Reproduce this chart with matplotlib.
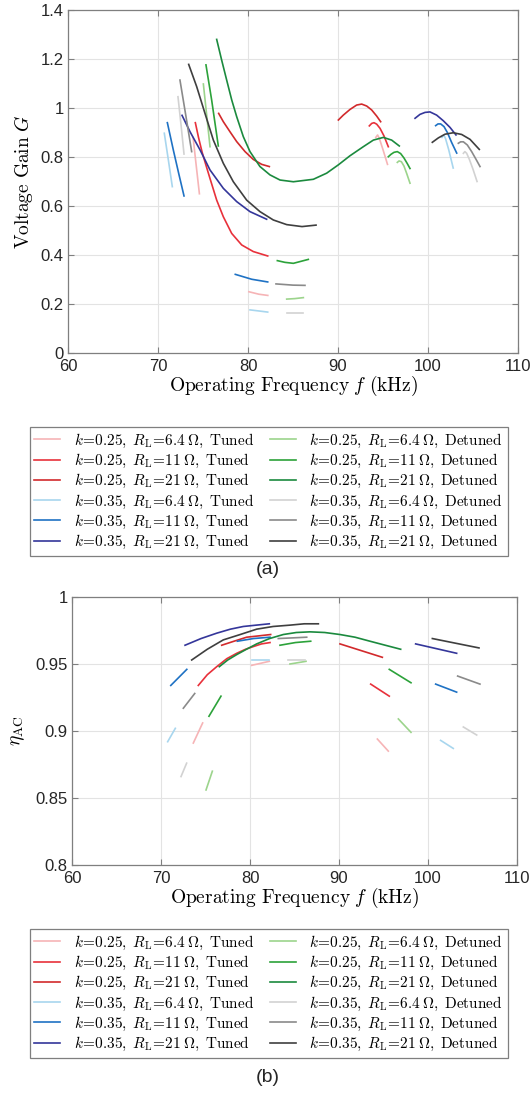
import matplotlib
matplotlib.use("Agg")
import matplotlib.pyplot as plt
from matplotlib.ticker import FuncFormatter

plt.rcParams['mathtext.fontset'] = 'cm'
plt.rcParams['font.family'] = ['Liberation Sans', 'DejaVu Sans']

# series labels / colours
labels = [
    r"$k\!=\!0.25,\;R_\mathrm{L}\!=\!6.4\;\Omega,\;\mathrm{Tuned}$",
    r"$k\!=\!0.25,\;R_\mathrm{L}\!=\!11\;\Omega,\;\mathrm{Tuned}$",
    r"$k\!=\!0.25,\;R_\mathrm{L}\!=\!21\;\Omega,\;\mathrm{Tuned}$",
    r"$k\!=\!0.35,\;R_\mathrm{L}\!=\!6.4\;\Omega,\;\mathrm{Tuned}$",
    r"$k\!=\!0.35,\;R_\mathrm{L}\!=\!11\;\Omega,\;\mathrm{Tuned}$",
    r"$k\!=\!0.35,\;R_\mathrm{L}\!=\!21\;\Omega,\;\mathrm{Tuned}$",
    r"$k\!=\!0.25,\;R_\mathrm{L}\!=\!6.4\;\Omega,\;\mathrm{Detuned}$",
    r"$k\!=\!0.25,\;R_\mathrm{L}\!=\!11\;\Omega,\;\mathrm{Detuned}$",
    r"$k\!=\!0.25,\;R_\mathrm{L}\!=\!21\;\Omega,\;\mathrm{Detuned}$",
    r"$k\!=\!0.35,\;R_\mathrm{L}\!=\!6.4\;\Omega,\;\mathrm{Detuned}$",
    r"$k\!=\!0.35,\;R_\mathrm{L}\!=\!11\;\Omega,\;\mathrm{Detuned}$",
    r"$k\!=\!0.35,\;R_\mathrm{L}\!=\!21\;\Omega,\;\mathrm{Detuned}$",
]
colors = ['#f6b4b6', '#e8313b', '#d22a2c', '#a8d6ee', '#1f72c4', '#34369a',
          '#9cd48c', '#2ca23a', '#1b8a3e', '#d2d2d2', '#8a8a8a', '#3f3f3f']

# ---- voltage gain G, each series = list of (f [kHz], G) branches ----
gain_t25_64 = [([73.9, 74.2, 74.6], [0.88, 0.78, 0.65]),
               ([80.1, 81.2, 82.2], [0.25, 0.24, 0.235]),
               ([94.2, 94.4, 94.6, 95.0, 95.5], [0.88, 0.89, 0.875, 0.83, 0.77])]
gain_t25_11 = [([74.15, 74.5, 74.9, 75.3, 75.78, 76.52, 77.26, 78.19, 79.3, 80.59, 82.19],
                [0.94, 0.88, 0.82, 0.77, 0.712, 0.624, 0.556, 0.488, 0.441, 0.414, 0.396]),
               ([93.48, 93.74, 94.0, 94.3, 94.67, 95.11, 95.59],
                [0.927, 0.937, 0.94, 0.934, 0.917, 0.886, 0.842])]
gain_t25_21 = [([76.74, 77.26, 78.0, 78.74, 79.67, 80.59, 81.52, 82.37],
                [0.978, 0.944, 0.903, 0.863, 0.822, 0.79, 0.77, 0.761]),
               ([90.04, 90.59, 91.33, 92.07, 92.63, 93.19, 93.74, 94.3, 94.74],
                [0.951, 0.971, 0.994, 1.012, 1.016, 1.008, 0.992, 0.967, 0.944])]
gain_t35_64 = [([70.7, 71.15, 71.59], [0.897, 0.788, 0.679]),
               ([80.22, 81.33, 82.19], [0.176, 0.171, 0.167]),
               ([101.55, 101.75, 101.95, 102.3, 102.8], [0.88, 0.89, 0.875, 0.83, 0.755])]
gain_t35_11 = [([71.04, 71.7, 72.3, 72.89], [0.94, 0.829, 0.733, 0.641]),
               ([78.59, 80.41, 82.19], [0.321, 0.301, 0.29]),
               ([100.85, 101.11, 101.41, 101.78, 102.15, 102.63, 103.19],
                [0.928, 0.935, 0.935, 0.924, 0.9, 0.859, 0.816])]
gain_t35_21 = [([72.67, 73.56, 74.67, 75.78, 77.26, 78.74, 80.22, 82.07],
                [0.97, 0.903, 0.829, 0.747, 0.672, 0.618, 0.577, 0.546]),
               ([98.56, 99.11, 99.67, 100.22, 100.96, 101.7, 102.44, 103.11],
                [0.958, 0.974, 0.982, 0.984, 0.971, 0.948, 0.921, 0.89])]
gain_d25_64 = [([75.04, 75.41, 75.78], [1.098, 0.971, 0.842]),
               ([84.3, 85.2, 86.15], [0.22, 0.222, 0.226]),
               ([96.59, 96.78, 97.04, 97.33, 97.63, 98.0], [0.778, 0.784, 0.781, 0.763, 0.733, 0.693])]
gain_d25_11 = [([75.33, 75.96, 76.7], [1.176, 1.033, 0.845]),
               ([83.26, 84.1, 85.04, 86.7], [0.377, 0.37, 0.366, 0.382]),
               ([95.59, 95.89, 96.22, 96.59, 96.96, 97.33, 97.7, 98.0],
                [0.801, 0.811, 0.819, 0.822, 0.814, 0.796, 0.773, 0.753])]
gain_d25_21 = [([76.52, 77.07, 77.63, 78.19, 78.74, 79.48, 80.22, 81.33, 82.44, 83.56, 85.04,
                 87.26, 88.74, 90.04, 91.33, 92.81, 93.93, 95.04, 95.96, 96.81],
                [1.28, 1.196, 1.114, 1.033, 0.965, 0.883, 0.822, 0.761, 0.727, 0.706, 0.699,
                 0.709, 0.734, 0.768, 0.805, 0.842, 0.869, 0.88, 0.869, 0.845])]
gain_d35_64 = [([72.22, 72.56, 72.89], [1.046, 0.931, 0.812]),
               ([84.3, 86.07], [0.162, 0.162]),
               ([103.93, 104.1, 104.3, 104.6, 105.0, 105.45], [0.815, 0.822, 0.815, 0.79, 0.75, 0.70])]
gain_d35_11 = [([72.44, 73.11, 73.74], [1.114, 0.965, 0.822]),
               ([83.11, 85.0, 86.33], [0.282, 0.277, 0.276]),
               ([103.37, 103.63, 103.93, 104.37, 104.85, 105.33, 105.78],
                [0.856, 0.862, 0.862, 0.849, 0.822, 0.791, 0.761])]
gain_d35_21 = [([73.41, 74.3, 75.22, 76.15, 77.26, 78.37, 79.85, 81.33, 82.81, 84.3, 86.0, 87.56],
                [1.178, 1.087, 0.978, 0.869, 0.774, 0.699, 0.624, 0.577, 0.543, 0.524, 0.516, 0.522]),
               ([100.48, 101.15, 101.89, 102.81, 103.74, 104.67, 105.7],
                [0.86, 0.878, 0.893, 0.899, 0.892, 0.872, 0.831])]

# ---- AC efficiency ----
eta_t25_64 = [([73.63, 74.68], [0.891, 0.906]),
              ([80.19, 82.17], [0.949, 0.952]),
              ([94.31, 95.54], [0.894, 0.885])]
eta_t25_11 = [([74.19, 75.2, 76.26, 77.4, 78.51, 79.5, 80.37, 81.3, 82.25],
               [0.934, 0.942, 0.948, 0.954, 0.958, 0.961, 0.963, 0.965, 0.966]),
              ([93.56, 95.65], [0.935, 0.926])]
eta_t25_21 = [([76.82, 78.2, 79.63, 81.0, 82.32], [0.964, 0.967, 0.970, 0.971, 0.972]),
              ([90.11, 94.87], [0.965, 0.955])]
eta_t35_64 = [([70.75, 71.61], [0.892, 0.902]),
              ([80.19, 82.13], [0.953, 0.953]),
              ([101.42, 102.84], [0.893, 0.887])]
eta_t35_11 = [([71.1, 72.9], [0.934, 0.946]),
              ([78.58, 80.4, 82.25], [0.967, 0.969, 0.970]),
              ([100.86, 103.22], [0.935, 0.929])]
eta_t35_21 = [([72.7, 74.5, 76.26, 77.8, 79.25, 80.7, 82.17],
               [0.964, 0.969, 0.973, 0.976, 0.978, 0.979, 0.980]),
              ([98.61, 103.22], [0.965, 0.958])]
eta_d25_64 = [([75.06, 75.77], [0.856, 0.870]),
              ([84.49, 85.4, 86.29], [0.950, 0.951, 0.952]),
              ([96.67, 98.09], [0.909, 0.899])]
eta_d25_11 = [([75.39, 76.74], [0.911, 0.926]),
              ([83.37, 85.1, 86.82], [0.964, 0.966, 0.967]),
              ([95.65, 98.09], [0.946, 0.936])]
eta_d25_21 = [([76.55, 77.5, 78.5, 79.6, 80.75, 82.2, 83.74, 85.2, 86.74, 88.4, 90.11, 91.8, 93.48, 95.2, 96.93],
               [0.948, 0.953, 0.957, 0.961, 0.965, 0.969, 0.972, 0.9735, 0.974, 0.9735, 0.972, 0.970,
                0.967, 0.964, 0.961])]
eta_d35_64 = [([72.25, 72.88], [0.866, 0.876]),
              ([84.31, 86.18], [0.953, 0.953]),
              ([103.97, 105.47], [0.903, 0.897])]
eta_d35_11 = [([72.51, 73.79], [0.917, 0.928]),
              ([83.18, 84.8, 86.37], [0.969, 0.9695, 0.970]),
              ([103.33, 105.84], [0.941, 0.935])]
eta_d35_21 = [([73.45, 75.2, 77.0, 78.9, 80.75, 82.6, 84.49, 86.1, 87.68],
               [0.953, 0.961, 0.968, 0.972, 0.976, 0.978, 0.979, 0.980, 0.980]),
              ([100.49, 105.73], [0.969, 0.962])]

gain_all = [gain_t25_64, gain_t25_11, gain_t25_21, gain_t35_64, gain_t35_11, gain_t35_21,
            gain_d25_64, gain_d25_11, gain_d25_21, gain_d35_64, gain_d35_11, gain_d35_21]
eta_all = [eta_t25_64, eta_t25_11, eta_t25_21, eta_t35_64, eta_t35_11, eta_t35_21,
           eta_d25_64, eta_d25_11, eta_d25_21, eta_d35_64, eta_d35_11, eta_d35_21]

W, H = 532, 1096
fig = plt.figure(figsize=(W / 100, H / 100), dpi=100)
ax1 = fig.add_axes([68 / W, 1 - 353 / H, 450 / W, 343 / H])
ax2 = fig.add_axes([72 / W, 1 - 865 / H, 445 / W, 268 / H])


def style(ax):
    ax.grid(True, color='#e3e3e3', lw=0.8)
    ax.set_axisbelow(True)
    for s in ax.spines.values():
        s.set_color('#7f7f7f')
        s.set_linewidth(0.9)
    ax.tick_params(direction='in', top=True, right=True, length=4, width=0.8,
                   color='#7f7f7f', labelsize=12, labelcolor='#262626', pad=3)
    ax.tick_params(axis='x', pad=4)
    ax.xaxis.set_major_formatter(FuncFormatter(lambda v, p: '%g' % v))
    ax.yaxis.set_major_formatter(FuncFormatter(lambda v, p: '%g' % v))


def draw(ax, data):
    handles = []
    for segs, c, lab in zip(data, colors, labels):
        h = None
        for fx, fy in segs:
            h, = ax.plot(fx, fy, color=c, lw=1.2, label=lab)
        handles.append(h)
    return handles


h1 = draw(ax1, gain_all)
style(ax1)
ax1.set_xlim(60, 110)
ax1.set_ylim(0, 1.4)
ax1.set_xticks([60, 70, 80, 90, 100, 110])
ax1.set_yticks([0, 0.2, 0.4, 0.6, 0.8, 1.0, 1.2, 1.4])
ax1.set_xlabel(r"$\mathrm{Operating\ Frequency}\ f\ \mathrm{(kHz)}$", fontsize=14, labelpad=0)
ax1.set_ylabel(r"$\mathrm{Voltage\ Gain}\ G$", fontsize=14, labelpad=4)

h2 = draw(ax2, eta_all)
style(ax2)
ax2.set_xlim(60, 110)
ax2.set_ylim(0.8, 1.0)
ax2.set_xticks([60, 70, 80, 90, 100, 110])
ax2.set_yticks([0.8, 0.85, 0.9, 0.95, 1.0])
ax2.set_xlabel(r"$\mathrm{Operating\ Frequency}\ f\ \mathrm{(kHz)}$", fontsize=14, labelpad=0)
ax2.set_ylabel(r"$\eta_\mathrm{AC}$", fontsize=14, labelpad=6)

# legends: column 1 tuned, column 2 detuned
for handles, top in ((h1, 427), (h2, 929)):
    leg = fig.legend(handles, labels, ncol=2, loc='upper center',
                     bbox_to_anchor=(0.505, 1 - top / H), borderaxespad=0, fontsize=11,
                     frameon=True, fancybox=False, edgecolor='#7f7f7f',
                     framealpha=1, borderpad=0.3, labelspacing=0.14,
                     handlelength=1.7, handletextpad=0.9, columnspacing=1.0)
    leg.get_frame().set_linewidth(0.9)

fig.text(0.503, 1 - 569 / H, '(a)', ha='center', va='center', fontsize=14, color='#262626')
fig.text(0.503, 1 - 1077 / H, '(b)', ha='center', va='center', fontsize=14, color='#262626')

fig.savefig('out.png', dpi=100)
